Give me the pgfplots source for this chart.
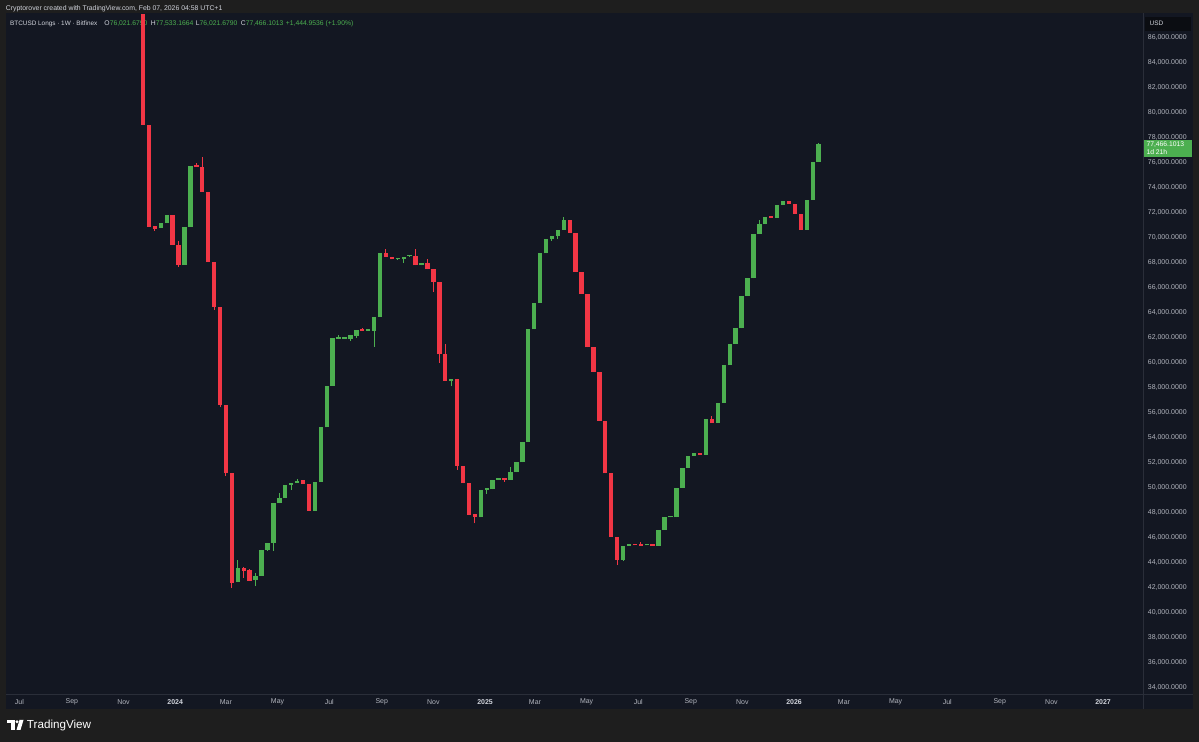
\documentclass[border=0pt]{standalone}
\usepackage{pgfplots}
\pgfplotsset{compat=1.18}
\usepackage{pgfplotstable}
\usepackage{fontspec}
\setmainfont{Liberation Sans}

\definecolor{outerbg}{RGB}{30,30,30}
\definecolor{panelbg}{RGB}{19,23,34}
\definecolor{sepline}{RGB}{42,46,57}
\definecolor{usdbox}{RGB}{11,13,18}
\definecolor{tvgreen}{RGB}{76,175,80}
\definecolor{tvred}{RGB}{242,54,69}
\definecolor{txtgray}{RGB}{178,181,190}
\definecolor{txtlight}{RGB}{209,212,220}

% weekly candles, d = days since 2024-01-01 (week start), prices in USD
% rising weeks
\pgfplotstableread{
d    o      h      l      c
-14  70740  71180  70740  71180
-7   71140  71800  71140  71800
14   67800  70870  67800  70870
21   70870  75720  70870  75720
77   42440  44200  42440  43540
98   42600  43150  42150  42920
105  42920  45000  42920  45000
112  45000  45590  44930  45590
119  45540  48730  44930  48730
126  48730  49530  48730  49130
133  49130  50200  49130  50200
140  50200  50390  49800  50390
147  50390  50700  50390  50550
168  48140  50470  48140  50470
175  50470  54810  50470  54810
182  54810  58120  54810  58120
189  58120  61940  58120  61940
196  61900  62200  61850  61950
203  61900  62020  61900  62020
210  61900  62200  61700  62200
217  62120  62600  61950  62600
231  62550  62600  62550  62600
238  62550  63660  61260  63660
245  63660  68730  63660  68730
266  68250  68300  68250  68300
273  68250  68460  67950  68460
280  68500  68550  68500  68550
294  67770  67980  67770  67980
329  58540  58700  58100  58700
364  47610  49800  47610  49800
371  49800  49900  49500  49900
378  49850  50600  49850  50600
385  50600  50730  50600  50730
399  50600  51610  50600  51210
406  51210  52010  51210  52010
413  52010  53660  52010  53660
420  53660  62650  53660  62650
427  62650  64790  62650  64790
434  64790  68730  64790  68730
441  68730  69850  68730  69850
448  69850  70150  69750  70150
455  70150  70600  69900  70600
462  70600  71600  70600  71400
532  44200  45320  44100  45320
539  45340  45480  45340  45480
560  45370  45480  45370  45480
574  45340  46600  45340  46600
581  46600  47610  46600  47610
588  47610  47690  47610  47690
595  47610  49960  47610  49960
602  49960  51560  49960  51560
609  51560  52550  51560  52550
616  52550  52730  52550  52730
630  52620  55450  52620  55450
644  55180  56780  55180  56780
651  56780  59800  56780  59800
658  59800  61480  59800  61480
665  61480  62730  61480  62730
672  62730  65350  62730  65350
679  65350  66730  65350  66730
686  66730  70280  66730  70280
693  70280  71400  70280  71050
700  71050  71670  71050  71670
714  71590  72600  71590  72600
721  72600  72890  72600  72890
749  70600  73000  70600  73000
756  73000  76022  73000  76022
763  76022  77533  76022  77466
}\upweeks

% falling weeks
\pgfplotstableread{
d    o      h      l      c
-35  87900  87900  79000  79000
-28  79000  79000  70870  70870
-21  70900  70950  70550  70700
0    71800  71800  69400  69400
7    69400  69700  67640  67800
28   75800  75950  75650  75650
35   75670  76470  73670  73670
42   73670  73670  68020  68020
49   68020  68020  64200  64470
56   64470  64470  56400  56600
63   56600  56600  50900  51140
70   51140  51140  41960  42390
84   43540  43600  42760  43350
91   43400  43500  42550  42550
154  50600  50600  50280  50280
161  50280  50280  48140  48140
224  62650  62750  62550  62550
252  68730  69100  68460  68460
259  68460  68460  68250  68250
287  68520  69100  67770  67770
301  67980  68300  67450  67450
308  67450  67450  65650  66460
315  66460  66460  59950  60650
322  60650  61500  58540  58540
336  58700  58700  51400  51740
343  51740  51740  50330  50330
350  50330  50330  47800  47800
357  47850  47850  47130  47670
392  50730  50730  50450  50600
469  71400  71400  70390  70390
476  70390  70390  67270  67270
483  67270  67270  65480  65480
490  65480  65480  61210  61210
497  61210  61210  59240  59240
504  59240  59240  55340  55340
511  55340  55340  51130  51130
518  51130  51130  46070  46070
525  46070  46070  43800  44200
546  45480  45480  45370  45370
553  45450  45620  45340  45340
567  45480  45480  45340  45340
623  52730  52730  52620  52620
637  55450  55720  55180  55180
707  71720  71720  71560  71560
728  72890  72890  72680  72680
735  72680  72680  71880  71880
742  71880  71880  70600  70600
}\downweeks

\begin{document}
\begin{tikzpicture}
\begin{scope}[x=1bp,y=1bp]
  \fill[outerbg] (0,0) rectangle (1199,742);
  \fill[panelbg] (5.5,33) rectangle (1192.5,728.5);
  \node[anchor=west,inner sep=0,text=txtlight,font=\fontsize{6.9}{8}\selectfont]
    at (5.7,733) {Cryptorover created with TradingView.com, Feb 07, 2026 04:58 UTC+1};
  \begin{scope}[every node/.style={anchor=west,inner sep=0,text=txtlight,font=\fontsize{6.8}{8}\selectfont}]
    \node[font=\fontsize{6.4}{8}\selectfont] at (10,718) {BTCUSD Longs · 1W · Bitfinex};
    \node at (104.3,718) {O\textcolor{tvgreen}{76,021.6790}};
    \node at (150.7,718) {H\textcolor{tvgreen}{77,533.1664}};
    \node at (195.7,718) {L\textcolor{tvgreen}{76,021.6790}};
    \node at (240.7,718) {C\textcolor{tvgreen}{77,466.1013}};
    \node at (285.7,718) {\textcolor{tvgreen}{+1,444.9536 (+1.90\%)}};
  \end{scope}
  \draw[sepline,line width=1bp] (5.5,47.5) -- (1192.5,47.5);
  \draw[sepline,line width=1bp] (1143.5,33) -- (1143.5,728.5);
  \fill[usdbox] (1145,711.3) rectangle (1190.7,725.3);
  \node[anchor=west,inner sep=0,text=txtlight,font=\fontsize{6.5}{7}\selectfont] at (1149.5,718.3) {USD};
  % logo
  \fill[white] (7,18.5) rectangle (14.5,22);
  \fill[white] (10.8,12) rectangle (14.5,22);
  \fill[white] (17,20.2) circle (1.7);
  \fill[white] (19.5,22) -- (23.5,22) -- (20.5,12) -- (16.5,12) -- cycle;
  \node[anchor=west,inner sep=0,text=white,font=\fontsize{11.7}{13}\selectfont] at (26.8,17) {TradingView};
\end{scope}

\begin{axis}[
  at={(5.5bp,47.5bp)}, anchor=south west,
  width=1138bp, height=681bp, scale only axis,
  xmin=-197.4, xmax=1146.7,
  ymin=33440, ymax=87920,
  axis line style={draw=none},
  major tick length=0pt,
  xtick={-184,-122,-61,0,60,121,182,244,305,366,425,486,547,609,670,731,790,851,912,974,1035,1096},
  xticklabels={Jul,Sep,Nov,\textcolor{txtlight}{\textbf{2024}},Mar,May,Jul,Sep,Nov,\textcolor{txtlight}{\textbf{2025}},Mar,May,Jul,Sep,Nov,\textcolor{txtlight}{\textbf{2026}},Mar,May,Jul,Sep,Nov,\textcolor{txtlight}{\textbf{2027}}},
  ytick={34000,36000,...,86000},
  yticklabel pos=right,
  scaled y ticks=false,
  /pgf/number format/assume math mode=true,
  yticklabel style={/pgf/number format/fixed,
    /pgf/number format/fixed zerofill,
    /pgf/number format/precision=4,
    /pgf/number format/1000 sep={,},
    anchor=west, inner sep=0pt, xshift=4.2bp,
    font=\fontsize{7}{8}\selectfont, text=txtgray},
  xticklabel style={anchor=center, inner sep=0pt, yshift=-7.5bp, xshift=2.5bp,
    font=\fontsize{7}{8}\selectfont, text=txtgray},
  candle/.style 2 args={draw=none, mark=none, forget plot,
    error bars/.cd, y dir=plus, y explicit, error mark=none,
    error bar style={draw=#1, line width=#2}},
]
% wicks
\addplot[candle={tvgreen}{1bp}]
  table[x=d, y=l, y error plus expr=\thisrow{h}-\thisrow{l}] {\upweeks};
\addplot[candle={tvred}{1bp}]
  table[x=d, y=l, y error plus expr=\thisrow{h}-\thisrow{l}] {\downweeks};
% bodies
\addplot[candle={tvgreen}{4.4bp}]
  table[x=d, y=o, y error plus expr={max(\thisrow{c}-\thisrow{o},120)}] {\upweeks};
\addplot[candle={tvred}{4.4bp}]
  table[x=d, y=c, y error plus expr={max(\thisrow{o}-\thisrow{c},120)}] {\downweeks};
\end{axis}

\begin{scope}[x=1bp,y=1bp]
  \fill[tvgreen] (1143.5,585) rectangle (1191.7,602);
  \node[anchor=west,inner sep=0,text=white,font=\fontsize{6.8}{7}\selectfont] at (1146.3,597) {77,466.1013};
  \node[anchor=west,inner sep=0,text=white,font=\fontsize{6.8}{7}\selectfont] at (1146.3,589.5) {1d 21h};
\end{scope}
\end{tikzpicture}
\end{document}
